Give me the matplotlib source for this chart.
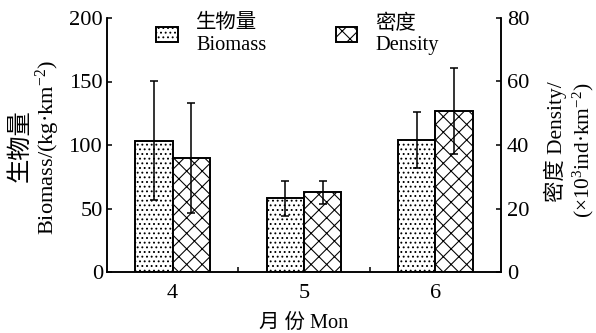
import matplotlib
matplotlib.use('Agg')
import matplotlib.pyplot as plt
from matplotlib.ticker import FixedLocator
import numpy as np

# ---- data ----
months = ['4', '5', '6']
biomass = [103.5, 58.0, 104.0]
biomass_err = [47.0, 14.0, 22.0]
density = [35.8, 25.1, 50.7]
density_err = [17.3, 3.6, 13.5]
left_ticks = [0, 50, 100, 150, 200]
right_ticks = [0, 20, 40, 60, 80]

plt.rcParams['font.family'] = ['Liberation Serif', 'Noto Sans CJK SC']
plt.rcParams['mathtext.fontset'] = 'custom'
plt.rcParams['mathtext.rm'] = 'Liberation Serif'
plt.rcParams['mathtext.it'] = 'Liberation Serif:italic'
plt.rcParams['hatch.linewidth'] = 0.55

DPI = 140
W, H = 596, 333
fig = plt.figure(figsize=(W / DPI, H / DPI), dpi=DPI)
ax = fig.add_axes([107 / W, 61 / H, 394 / W, 254 / H])
ax2 = ax.twinx()

x = np.arange(len(months))
w = 0.285
ekw = dict(ecolor='black', elinewidth=0.8, capsize=2.2, capthick=0.8)
ax.bar(x - w / 2, biomass, w, yerr=biomass_err, color='white', edgecolor='black',
       hatch='.....', linewidth=1.0, error_kw=ekw, label='生物量\nBiomass')
ax2.bar(x + w / 2, density, w, yerr=density_err, color='white', edgecolor='black',
        hatch='xxx', linewidth=1.0, error_kw=ekw, label='密度\nDensity')

ax.set_xlim(-0.5, 2.5)
ax.set_ylim(0, 200)
ax2.set_ylim(0, 80)
ax.set_yticks(left_ticks)
ax2.set_yticks(right_ticks)
ax.set_xticks(x)
ax.set_xticklabels(months)
ax.xaxis.set_minor_locator(FixedLocator([0.5, 1.5]))

for a in (ax, ax2):
    a.spines['top'].set_visible(False)
    for s in a.spines.values():
        s.set_linewidth(0.8)

ax.tick_params(axis='y', direction='in', length=2.6, width=0.8, labelsize=11.5, pad=2)
ax2.tick_params(axis='y', direction='in', length=2.6, width=0.8, labelsize=11.5, pad=3)
ax.tick_params(axis='x', which='major', length=0, labelsize=11.5, pad=6)
ax.tick_params(axis='x', which='minor', direction='in', length=2.6, width=0.8)

# legend
h1, l1 = ax.get_legend_handles_labels()
h2, l2 = ax2.get_legend_handles_labels()
ax.legend(h1 + h2, l1 + l2, ncol=2, loc='upper left', bbox_to_anchor=(0.125, 1.015),
          frameon=False, fontsize=10.5, handlelength=1.05, handleheight=0.8,
          handletextpad=0.9, columnspacing=3.4, borderpad=0, borderaxespad=0,
          labelspacing=0.2)

# axis labels
fig.text(20 / W, 1 - 146 / H, '生物量', rotation=90, ha='center', va='center', fontsize=12.5)
fig.text(48 / W, 1 - 147 / H, 'Biomass/(kg·km$^{-2}$)', rotation=90, ha='center', va='center', fontsize=11.5)
fig.text(555 / W, 1 - 142 / H, '密度 Density/', rotation=90, ha='center', va='center', fontsize=11)
fig.text(583 / W, 1 - 150 / H, '(×10$^{3}$ind·km$^{-2}$)', rotation=90, ha='center', va='center', fontsize=11)
fig.text(304 / W, 1 - 323 / H, '月 份 Mon', ha='center', va='center', fontsize=10.5)

fig.savefig('out.png', dpi=DPI)
